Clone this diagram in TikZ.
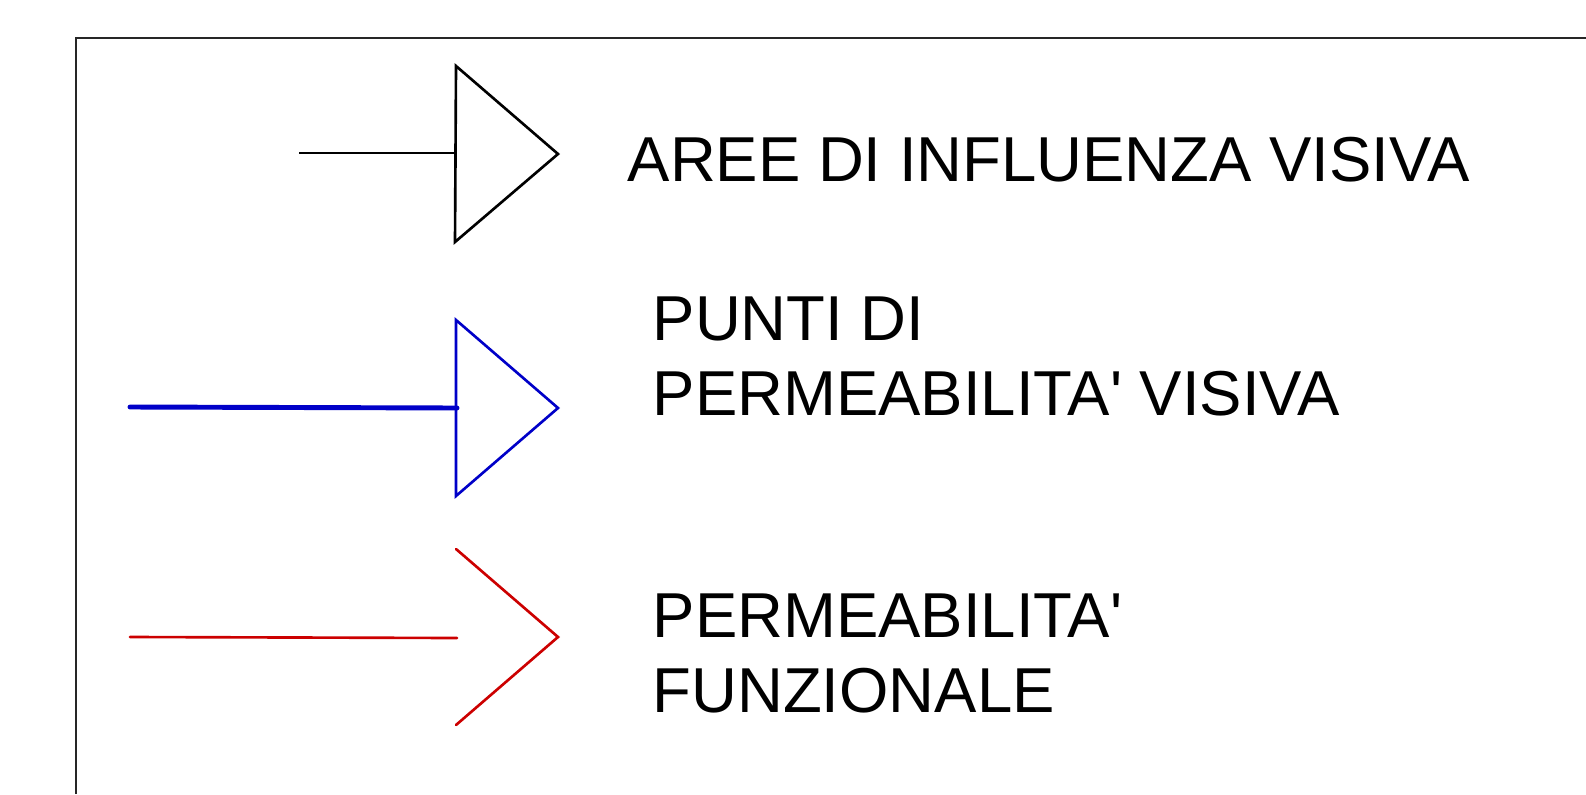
\documentclass[tikz,border=0pt]{standalone}
\usepackage{fontspec}
\newfontfamily\legenda{Liberation Sans}
\usetikzlibrary{positioning}
\definecolor{bluvisivo}{RGB}{0,0,200}
\definecolor{rossofunz}{RGB}{204,0,0}
\tikzset{
  etichetta/.style={anchor=base west, inner sep=0pt, align=left,
    font=\legenda\fontsize{18.05}{21.3}\selectfont},
  tratto/.style={line width=0.75pt, line join=miter},
}
\begin{document}
\begin{tikzpicture}[x=0.01cm,y=-0.01cm]
    \useasboundingbox (0,0) rectangle (1586,794);
    % cornice della legenda
    \draw[line width=0.7pt, black!85] (76,794) -- (76,38) -- (1586,38);
    % aree di influenza visiva
    \coordinate (neroA) at (299,153);
    \coordinate (neroB) at (456,153);
    \draw[tratto] (neroA) -- (neroB);
    \draw[tratto] (neroB) ++(0,-87) -- ++(102,88) -- ++(-103,88) -- cycle;
    % punti di permeabilita' visiva
    \coordinate (bluA) at (130,407);
    \coordinate (bluB) at (457,408);
    \draw[line width=1.4pt, bluvisivo, line cap=round] (bluA) -- (bluB);
    \draw[tratto, bluvisivo] (456,320) -- (558,408) -- (456,496) -- cycle;
    % permeabilita' funzionale
    \coordinate (rossoA) at (130,637);
    \coordinate (rossoB) at (457,638);
    \draw[tratto, rossofunz, line cap=round] (rossoA) -- (rossoB);
    \draw[tratto, rossofunz, line cap=round] (456,549) -- (558,637) -- (456,725);
    % testi
    \node[etichetta] (areevis) at (627,182) {AREE DI INFLUENZA VISIVA};
    \node[etichetta] (puntiperm) at (652,415) {PUNTI DI\\PERMEABILITA' VISIVA};
    \node[etichetta] (permfunz) at (652,712) {PERMEABILITA'\\FUNZIONALE};
\end{tikzpicture}
\end{document}
